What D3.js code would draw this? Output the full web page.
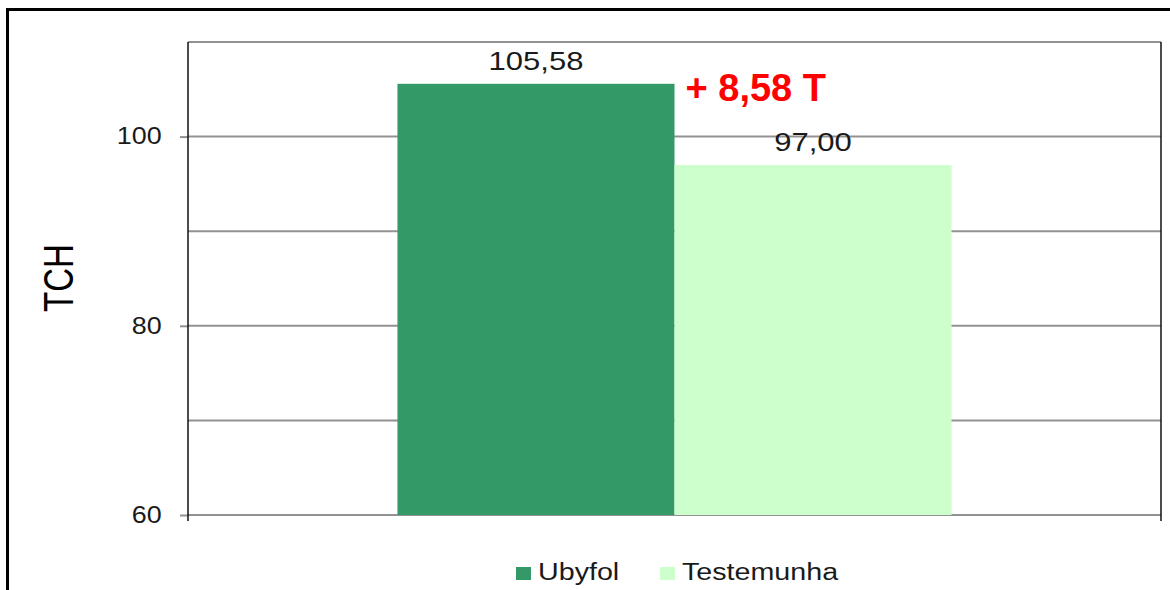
<!DOCTYPE html>
<html>
<head>
<meta charset="utf-8">
<script src="https://cdn.jsdelivr.net/npm/d3@7"></script>
<style>
  body { margin: 0; background: #fff; }
  text { font-family: "Liberation Sans", Arial, sans-serif; }
</style>
</head>
<body>
<div id="chart"></div>
<script>
// data
var categories = ["TCH"];
var series = ["Ubyfol", "Testemunha"];
var values = [105.58, 97.00];
var labels = ["105,58", "97,00"];
var colors = ["#339966", "#ccffcc"];
var majorTicks = [60, 80, 100];
var gridTicks = [60, 70, 80, 90, 100, 110];
var diffLabel = "+ 8,58 T";

var W = 1170, H = 590;
// plot area edges (don't call it "top", that's window.top)
var plotL = 188, plotR = 1161, plotT = 42, plotB = 515;
var sx = 1.17; // the original text looks stretched sideways

var svg = d3.select("#chart").append("svg")
  .attr("width", W).attr("height", H);

// outer frame
svg.append("rect")
  .attr("x", 7.5).attr("y", 9.5)
  .attr("width", W + 20).attr("height", H + 20)
  .attr("fill", "none").attr("stroke", "#000").attr("stroke-width", 3);

var y = d3.scaleLinear().domain([60, 110]).range([plotB, plotT]);

var x0 = d3.scaleBand().domain(categories).range([plotL, plotR])
  .paddingInner(0).paddingOuter(0.378);
var x1 = d3.scaleBand().domain(series).range([0, x0.bandwidth()]).padding(0);

// gridlines
svg.append("g").selectAll("line")
  .data(gridTicks)
  .enter().append("line")
  .attr("x1", plotL).attr("x2", plotR)
  .attr("y1", function(d){ return y(d) })
  .attr("y2", function(d){ return y(d) })
  .attr("stroke", "#929292").attr("stroke-width", 2);

// bars
var g = svg.append("g").attr("transform", "translate(" + x0(categories[0]) + ",0)");
g.selectAll("rect")
  .data(values)
  .enter().append("rect")
  .attr("x", function(d, i){ return x1(series[i]) })
  .attr("y", function(d){ return y(d) })
  .attr("width", x1.bandwidth())
  .attr("height", function(d){ return plotB - y(d) })
  .attr("fill", function(d, i){ return colors[i] });

g.selectAll("g.val")
  .data(values)
  .enter().append("g")
  .attr("class", "val")
  .attr("transform", function(d, i){
    return "translate(" + (x1(series[i]) + x1.bandwidth() / 2) + "," + (y(d) - 14) + ")"
  })
  .append("text")
  .attr("transform", "scale(" + sx + ",1)")
  .attr("text-anchor", "middle")
  .attr("font-size", "26.5px")
  .attr("fill", "#1a1a1a")
  .text(function(d, i){ return labels[i] });

// difference annotation
svg.append("text")
  .attr("x", x0(categories[0]) + x1(series[1]) + 11)
  .attr("y", y(values[0]) + 17)
  .attr("font-size", "38px")
  .attr("font-weight", "bold")
  .attr("fill", "#ff0000")
  .text(diffLabel);

// y axis
var yAxis = d3.axisLeft(y).tickValues(majorTicks).tickSize(8).tickPadding(14.5);
var ya = svg.append("g").attr("transform", "translate(" + plotL + ",0)").call(yAxis);
ya.select(".domain").remove();
ya.selectAll(".tick line").attr("stroke", "#929292").attr("stroke-width", 2);
ya.selectAll(".tick text").attr("font-size", "23px").attr("fill", "#1a1a1a")
  .attr("font-family", "Liberation Sans, Arial, sans-serif")
  .attr("transform", "scale(" + sx + ",1)");

// axis lines
svg.append("line").attr("x1", plotL).attr("x2", plotL)
  .attr("y1", plotT).attr("y2", plotB + 6)
  .attr("stroke", "#111").attr("stroke-width", 1.5);
svg.append("line").attr("x1", plotR).attr("x2", plotR)
  .attr("y1", plotT).attr("y2", plotB + 6)
  .attr("stroke", "#111").attr("stroke-width", 1.5);

// y label
svg.append("text")
  .attr("transform", "translate(73,278) rotate(-90) scale(1,1.3)")
  .attr("text-anchor", "middle")
  .attr("font-size", "33px")
  .attr("fill", "#000")
  .text(categories[0]);

// legend
var legX = [516, 660];
var leg = svg.append("g").selectAll("g")
  .data(series)
  .enter().append("g")
  .attr("transform", function(d, i){ return "translate(" + legX[i] + ",567)" });
leg.append("rect").attr("width", 15).attr("height", 13)
  .attr("fill", function(d, i){ return colors[i] });
leg.append("text")
  .attr("transform", "translate(22,13) scale(" + sx + ",1)")
  .attr("font-size", "24.5px").attr("fill", "#1a1a1a")
  .text(function(d){ return d });
</script>
</body>
</html>
